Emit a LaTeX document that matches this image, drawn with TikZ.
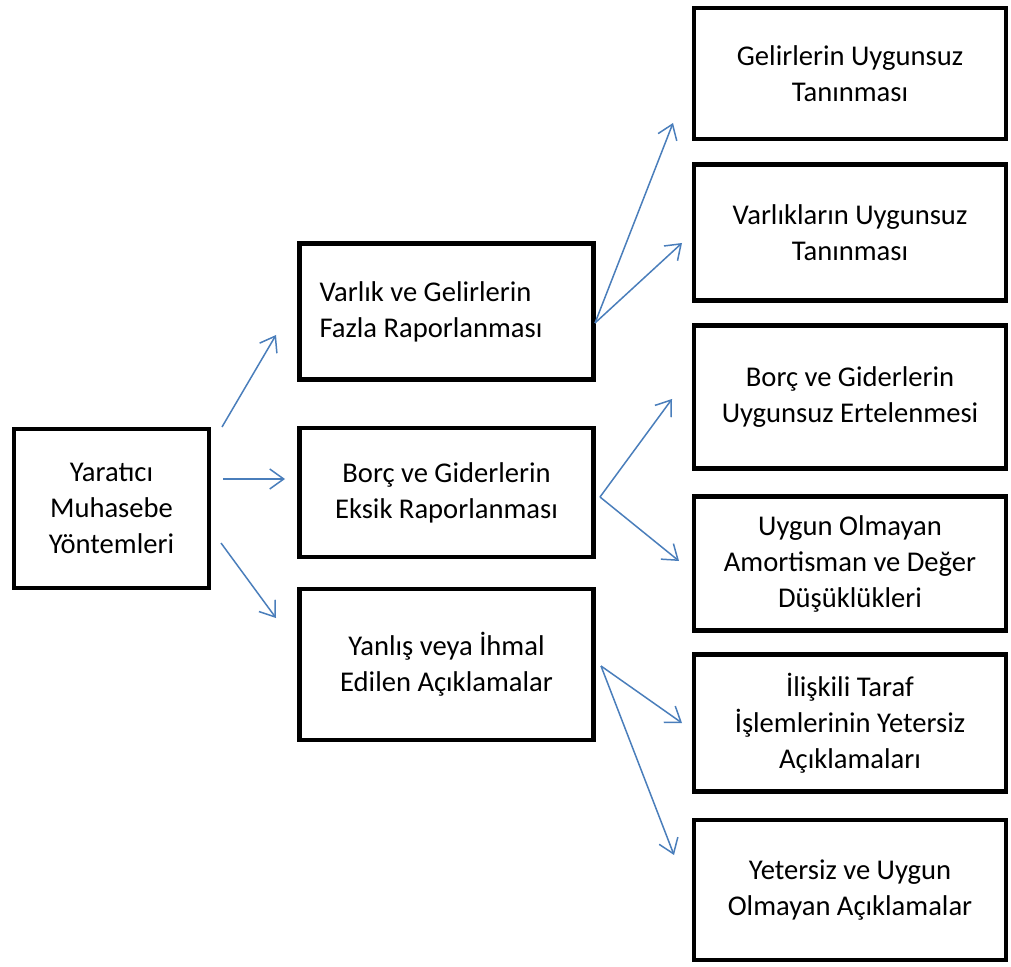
\documentclass[tikz,border=0pt]{standalone}
\usepackage{fontspec}
\setmainfont{Carlito}
\usetikzlibrary{arrows.meta}
\definecolor{okmavi}{HTML}{4A7EBB}
\begin{document}
\begin{tikzpicture}[x=0.5pt,y=-0.5pt,
		kutu/.style={draw,line width=2.25pt,align=center,inner sep=0pt,font=\fontsize{14.3}{18}\selectfont},
		ok/.style={okmavi,line width=0.75pt,-{Straight Barb[length=7pt,width=10pt]}}]
			\useasboundingbox (0,0) rectangle (1011,967);
			\node[kutu,minimum width=97.5pt,minimum height=79.5pt] (M) at (111.5,508.5) {Yaratıcı\\Muhasebe\\Yöntemleri};
			\node[kutu,minimum width=147pt,minimum height=68pt,align=flush left,text width=127pt] (A1) at (446.5,311.5) {Varlık ve Gelirlerin\\Fazla Raporlanması};
			\node[kutu,minimum width=147pt,minimum height=64.5pt] (A2) at (446.5,492.5) {Borç ve Giderlerin\\Eksik Raporlanması};
			\node[kutu,minimum width=147pt,minimum height=75.5pt] (A3) at (446.5,664.5) {Yanlış veya İhmal\\Edilen Açıklamalar};
			\node[kutu,minimum width=156pt,minimum height=65.5pt] (B1) at (850,73.5) {Gelirlerin Uygunsuz\\Tanınması};
			\node[kutu,minimum width=156pt,minimum height=68pt] (B2) at (850,232.5) {Varlıkların Uygunsuz\\Tanınması};
			\node[kutu,minimum width=156pt,minimum height=71.5pt] (B3) at (850,397) {Borç ve Giderlerin\\Uygunsuz Ertelenmesi};
			\node[kutu,minimum width=156pt,minimum height=67pt] (B4) at (850,563.5) {Uygun Olmayan\\Amortisman ve Değer\\Düşüklükleri};
			\node[kutu,minimum width=156pt,minimum height=68.5pt] (B5) at (850,723) {İlişkili Taraf\\İşlemlerinin Yetersiz\\Açıklamaları};
			\node[kutu,minimum width=156pt,minimum height=70pt] (B6) at (850,890) {Yetersiz ve Uygun\\Olmayan Açıklamalar};
			\coordinate (M1) at (222,427);
			\coordinate (M2) at (223,479);
			\coordinate (M3) at (221,543);
			\coordinate (U1) at (276,335);
			\coordinate (U2) at (285,479);
			\coordinate (U3) at (276,618);
			\coordinate (S1) at (595,323);
			\coordinate (S2) at (600,497);
			\coordinate (S3) at (601,666);
			\coordinate (T1) at (673,123);
			\coordinate (T2) at (682,243);
			\coordinate (T3) at (672,399);
			\coordinate (T4) at (679,561);
			\coordinate (T5) at (682,723);
			\coordinate (T6) at (674,855);
			\draw[ok] (M1) -- (U1);
			\draw[ok] (M2) -- (U2);
			\draw[ok] (M3) -- (U3);
			\draw[ok] (S1) -- (T1);
			\draw[ok] (S1) -- (T2);
			\draw[ok] (S2) -- (T3);
			\draw[ok] (S2) -- (T4);
			\draw[ok] (S3) -- (T5);
			\draw[ok] (S3) -- (T6);
		\end{tikzpicture}
\end{document}
